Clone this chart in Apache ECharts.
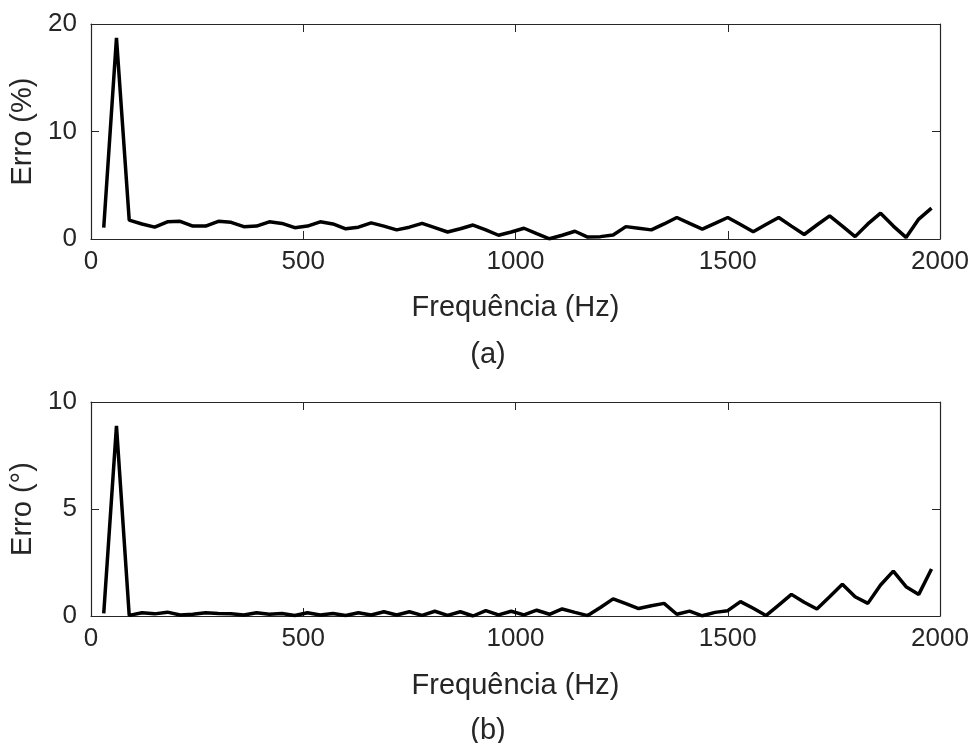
<!DOCTYPE html>
<html>
<head>
<meta charset="utf-8">
<script src="https://cdn.jsdelivr.net/npm/echarts@6/dist/echarts.min.js"></script>
<style>
html,body{margin:0;padding:0;background:#fff;}
#c{width:976px;height:743px;}
</style>
</head>
<body>
<div id="c"></div>
<script>
// Frequencies (Hz)
var freqs = [30,60,90,120,150,180,210,240,270,300,330,360,390,420,450,480,510,540,570,600,
  630,660,690,720,750,780,810,840,870,900,930,960,990,1020,1050,1080,1110,1140,1170,1200,
  1230,1260,1290,1320,1350,1380,1410,1440,1470,1500,1530,1560,1590,1620,1650,1680,1710,1740,1770,1800,
  1830,1860,1890,1920,1950,1980];
// (a) Erro (%)
var erroPct = [1.05,18.7,1.75,1.4,1.1,1.6,1.65,1.2,1.2,1.65,1.55,1.15,1.2,1.6,1.45,1.05,1.2,1.6,1.4,0.95,
  1.1,1.5,1.2,0.85,1.1,1.45,1.05,0.65,0.95,1.3,0.85,0.35,0.65,1.0,0.5,0.02,0.35,0.72,0.18,0.22,
  0.37,1.15,1.0,0.85,1.4,2.0,1.45,0.92,1.45,2.0,1.35,0.68,1.35,2.0,1.2,0.42,1.3,2.15,1.2,0.22,
  1.4,2.4,1.2,0.15,1.85,2.87];
// (b) Erro (°)
var erroDeg = [0.12,8.88,0.03,0.15,0.1,0.18,0.05,0.08,0.15,0.12,0.1,0.05,0.15,0.08,0.12,0.02,0.15,0.05,0.12,0.02,
  0.15,0.05,0.2,0.05,0.2,0.03,0.22,0.03,0.2,0.0,0.25,0.05,0.22,0.05,0.27,0.08,0.33,0.17,0.02,0.4,
  0.8,0.58,0.35,0.48,0.59,0.08,0.23,0.01,0.17,0.25,0.67,0.36,0.02,0.51,1.01,0.64,0.33,0.9,1.48,0.9,
  0.59,1.45,2.1,1.37,1.01,2.2];
var xTicks = [0,500,1000,1500,2000];
var yTicksA = [0,10,20];
var yTicksB = [0,5,10];
var xName = 'Frequência (Hz)';
var yNameA = 'Erro (%)';
var yNameB = 'Erro (°)';
var panelLabels = ['(a)','(b)'];

function pairs(xs, ys){ return xs.map(function(x,i){ return [x, ys[i]]; }); }

var FONT = "'Liberation Sans', Arial, sans-serif";
var AX = '#262626';
var TXT = '#262626';
var TICKFS = 26, NAMEFS = 29;
function plain(v){ return String(v); }

function xAxisPair(gi, gap){
  return [{
    type:'value', gridIndex:gi, min:xTicks[0], max:xTicks[xTicks.length-1], interval:500,
    name:xName, nameLocation:'middle', nameGap:gap,
    nameTextStyle:{fontFamily:FONT,fontSize:NAMEFS,color:TXT},
    axisLine:{onZero:false,lineStyle:{color:AX,width:1.2}},
    axisTick:{inside:true,length:8,lineStyle:{color:AX}},
    axisLabel:{fontFamily:FONT,fontSize:TICKFS,color:TXT,margin:10,formatter:plain},
    splitLine:{show:false}
  },{
    type:'value', gridIndex:gi, position:'top', min:xTicks[0], max:xTicks[xTicks.length-1], interval:500,
    axisLine:{onZero:false,lineStyle:{color:AX,width:1.2}},
    axisTick:{inside:true,length:8,lineStyle:{color:AX}},
    axisLabel:{show:false}, splitLine:{show:false}
  }];
}
function yAxisPair(gi, ticks, name){
  var mx = ticks[ticks.length-1], iv = ticks[1]-ticks[0];
  return [{
    type:'value', gridIndex:gi, min:0, max:mx, interval:iv,
    name:name, nameLocation:'middle', nameGap:46, nameRotate:90,
    nameTextStyle:{fontFamily:FONT,fontSize:NAMEFS,color:TXT},
    axisLine:{show:true,onZero:false,lineStyle:{color:AX,width:1.2}},
    axisTick:{show:true,inside:true,length:8,lineStyle:{color:AX}},
    axisLabel:{fontFamily:FONT,fontSize:TICKFS,color:TXT,margin:14,formatter:plain},
    splitLine:{show:false}
  },{
    type:'value', gridIndex:gi, position:'right', min:0, max:mx, interval:iv,
    axisLine:{show:true,onZero:false,lineStyle:{color:AX,width:1.2}},
    axisTick:{show:true,inside:true,length:8,lineStyle:{color:AX}},
    axisLabel:{show:false}, splitLine:{show:false}
  }];
}

var chart = echarts.init(document.getElementById('c'), null, {renderer:'canvas'});
var xa = xAxisPair(0, 54).concat(xAxisPair(1, 55));
var ya = yAxisPair(0, yTicksA, yNameA).concat(yAxisPair(1, yTicksB, yNameB));
chart.setOption({
  animation:false,
  backgroundColor:'#fff',
  title:[
    {text:panelLabels[0], left:'center', top:335, textStyle:{fontFamily:FONT,fontSize:NAMEFS,fontWeight:'normal',color:TXT}},
    {text:panelLabels[1], left:'center', top:711, textStyle:{fontFamily:FONT,fontSize:NAMEFS,fontWeight:'normal',color:TXT}}
  ],
  grid:[
    {left:91, top:24, width:849, height:215},
    {left:91, top:402, width:849, height:214}
  ],
  xAxis:xa,
  yAxis:ya,
  series:[
    {type:'line', xAxisIndex:0, yAxisIndex:0, data:pairs(freqs, erroPct), showSymbol:false,
     lineStyle:{color:'#000',width:3.5}, itemStyle:{color:'#000'}},
    {type:'line', xAxisIndex:2, yAxisIndex:2, data:pairs(freqs, erroDeg), showSymbol:false,
     lineStyle:{color:'#000',width:3.5}, itemStyle:{color:'#000'}}
  ]
});
</script>
</body>
</html>
